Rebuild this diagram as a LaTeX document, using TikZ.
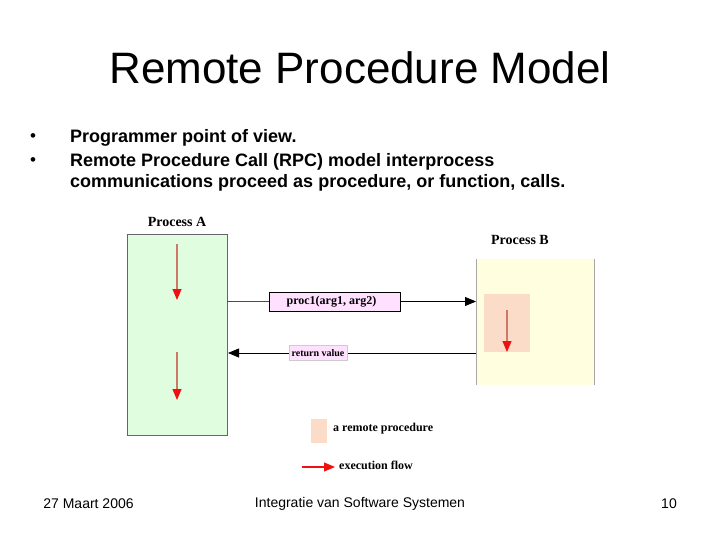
\documentclass[tikz,border=0pt]{standalone}
\usepackage{fontspec}
\setmainfont{Liberation Sans}
\newfontfamily\dser{Liberation Serif}
\usetikzlibrary{arrows.meta}
\definecolor{pgreen}{HTML}{E0FDE0}
\definecolor{pyellow}{HTML}{FFFFE0}
\definecolor{ppink}{HTML}{FFE0FF}
\definecolor{ppeach}{HTML}{FADCC8}
\definecolor{flowline}{HTML}{D07868}
\definecolor{flowred}{HTML}{F01010}
\begin{document}
\begin{tikzpicture}[x=1pt,y=-1pt,
  slidetext/.style={inner sep=0,anchor=west,font=\fontsize{18}{21}\selectfont\bfseries},
  bul/.style={inner sep=0,anchor=west,font=\fontsize{17}{20}\selectfont},
  foot/.style={inner sep=0,font=\fontsize{14}{16}\selectfont},
  dlabel/.style={inner sep=0,font=\dser\fontsize{14}{16}\selectfont\bfseries},
  legtext/.style={inner sep=0,anchor=west,font=\dser\fontsize{12}{14}\selectfont\bfseries},
  flowtip/.style={-{Triangle[length=11pt,width=9pt,fill=flowred,color=flowred]}},
  flow/.style={draw=flowline,line width=1.2pt,flowtip},
  msg/.style={draw=black,line width=0.8pt}]
\useasboundingbox (0,0) rectangle (720,540);
\node[inner sep=0,font=\fontsize{44}{48}\selectfont] (title) at (360,68) {Remote Procedure Model};
\node[bul] (b1) at (30,138) {•};
\node[slidetext] (t1) at (70,138) {Programmer point of view.};
\node[bul] (b2) at (30,162) {•};
\node[slidetext] (t2) at (70,162) {Remote Procedure Call (RPC) model interprocess};
\node[slidetext] (t3) at (70,183) {communications proceed as procedure, or function, calls.};
% Process A
\node[dlabel] (la) at (177,222) {Process A};
\draw[fill=pgreen,draw=gray!80!black,line width=0.8pt] (127,234) rectangle (227,435);
\coordinate (a1s) at (177,244); \coordinate (a1e) at (177,300);
\coordinate (a2s) at (177,352); \coordinate (a2e) at (177,400);
\draw[flow] (a1s) -- (a1e);
\draw[flow] (a2s) -- (a2e);
% Process B
\node[dlabel] (lb) at (520,240) {Process B};
\fill[pyellow] (476,259) rectangle (594,385);
\draw[gray!70,line width=0.8pt] (476,259) -- (476,385) (594,259) -- (594,385);
\fill[ppeach] (484,294) rectangle (530,352);
\coordinate (b1s) at (507,310); \coordinate (b1e) at (507,352);
\draw[flow] (b1s) -- (b1e);
% call
\node[draw=black,fill=ppink,line width=0.8pt,minimum width=131pt,minimum height=19pt,inner sep=0,font=\dser\fontsize{12}{14}\selectfont\bfseries] (proc) at (334.5,301.5) {\hspace*{-6pt}proc1(arg1, arg2)};
\coordinate (aout) at (227,301.5);
\coordinate (bin) at (476,301.5);
\draw[gray!60!black,line width=0.8pt] (aout) -- (proc.west);
\draw[msg,-{Triangle[length=11pt,width=9pt]}] (proc.east) -- (bin);
% return
\coordinate (bout) at (476,353);
\coordinate (ain) at (228,353);
\draw[msg,-{Triangle[length=11pt,width=9pt]}] (bout) -- (ain);
\node[draw=gray!40,fill=ppink,line width=0.6pt,minimum width=58pt,minimum height=15pt,inner sep=0,font=\dser\fontsize{10}{12}\selectfont\bfseries] (ret) at (318,353) {return value};
% legend
\fill[ppeach] (311,419) rectangle (327,443);
\node[legtext] (lr) at (333,429) {a remote procedure};
\coordinate (ls) at (302,467); \coordinate (le) at (335,467);
\draw[draw=flowred,line width=1.2pt,flowtip] (ls) -- (le);
\node[legtext] (lf) at (339,465) {execution flow};
% footer
\node[foot] (f1) at (88.5,504) {27 Maart 2006};
\node[foot] (f2) at (360,504) {Integratie van Software Systemen};
\node[foot] (f3) at (669,504) {10};
\end{tikzpicture}
\end{document}
